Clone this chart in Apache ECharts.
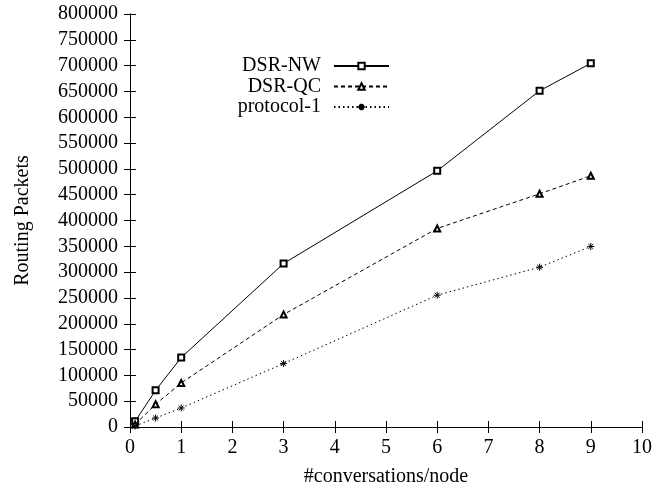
<!DOCTYPE html>
<html>
<head>
<meta charset="utf-8">
<script src="https://cdn.jsdelivr.net/npm/echarts@6/dist/echarts.min.js"></script>
<style>html,body{margin:0;padding:0;background:#fff}#c{width:670px;height:493px}</style>
</head>
<body>
<div id="c"></div>
<script>
var xValues = [0.1, 0.5, 1, 3, 6, 8, 9];
var dsrNW = [11000, 71000, 134500, 316700, 496200, 651300, 704400];
var dsrQC = [5000, 44000, 85300, 217900, 384600, 451700, 486600];
var protocol1 = [2000, 17400, 36800, 122900, 255300, 309600, 349700];
var seriesNames = ['DSR-NW', 'DSR-QC', 'protocol-1'];
var xTitle = '#conversations/node';
var yTitle = 'Routing Packets';

function pairs(ys) { return xValues.map(function (x, i) { return [x, ys[i]]; }); }

var FONT = 'Liberation Serif';
var txt = { fontFamily: FONT, fontSize: 20, color: '#000' };
var asterisk = 'path://M0,5L10,5M5,0L5,10M1.5,1.5L8.5,8.5M8.5,1.5L1.5,8.5';

function axisCommon(show) {
  return {
    axisLine: { show: true, lineStyle: { color: '#000', width: 1 } },
    axisTick: { show: true, inside: true, length: 6, lineStyle: { color: '#000' } },
    splitLine: { show: false },
    axisLabel: show ? Object.assign({}, txt) : { show: false }
  };
}

var chart = echarts.init(document.getElementById('c'), null, { renderer: 'canvas' });
var legends = seriesNames.map(function (n, i) {
  return {
    data: [n],
    right: 280,
    top: 56 + i * 20.5,
    padding: 0,
    align: 'right',
    itemWidth: 55,
    itemHeight: 8,
    textStyle: Object.assign({ padding: [0, 8, 0, 0] }, txt),
    selectedMode: false
  };
});

chart.setOption({
  animation: false,
  backgroundColor: '#fff',
  legend: legends,
  grid: { left: 130, right: 28, top: 14, bottom: 66, containLabel: false },
  xAxis: [
    Object.assign({
      type: 'value', min: 0, max: 10, interval: 1, position: 'bottom',
      name: xTitle, nameLocation: 'middle', nameGap: 40, nameTextStyle: txt
    }, axisCommon(true), { axisLabel: Object.assign({ margin: 11 }, txt) }),
    Object.assign({ type: 'value', min: 0, max: 10, interval: 1, position: 'top' }, axisCommon(false))
  ],
  yAxis: [
    Object.assign({
      type: 'value', min: 0, max: 800000, interval: 50000, position: 'left',
      name: yTitle, nameLocation: 'middle', nameGap: 97, nameTextStyle: txt
    }, axisCommon(true), { axisLabel: Object.assign({ margin: 12, formatter: function (v) { return String(v); } }, txt) }),
    Object.assign({ type: 'value', min: 0, max: 800000, interval: 50000, position: 'right' }, axisCommon(false))
  ],
  series: [
    {
      name: seriesNames[0], type: 'line', data: pairs(dsrNW),
      symbol: 'emptyRect', symbolSize: 6,
      lineStyle: { color: '#000', width: 1, type: 'solid' },
      itemStyle: { color: '#000', borderColor: '#000', borderWidth: 1 }
    },
    {
      name: seriesNames[1], type: 'line', data: pairs(dsrQC),
      symbol: 'emptyTriangle', symbolSize: 6,
      lineStyle: { color: '#000', width: 1, type: [4, 3] },
      itemStyle: { color: '#000', borderColor: '#000', borderWidth: 1 }
    },
    {
      name: seriesNames[2], type: 'line', data: pairs(protocol1),
      symbol: asterisk, symbolSize: 7,
      lineStyle: { color: '#000', width: 1, type: [1.5, 3] },
      itemStyle: { color: '#000', borderColor: '#000', borderWidth: 1 }
    }
  ]
});
</script>
</body>
</html>
